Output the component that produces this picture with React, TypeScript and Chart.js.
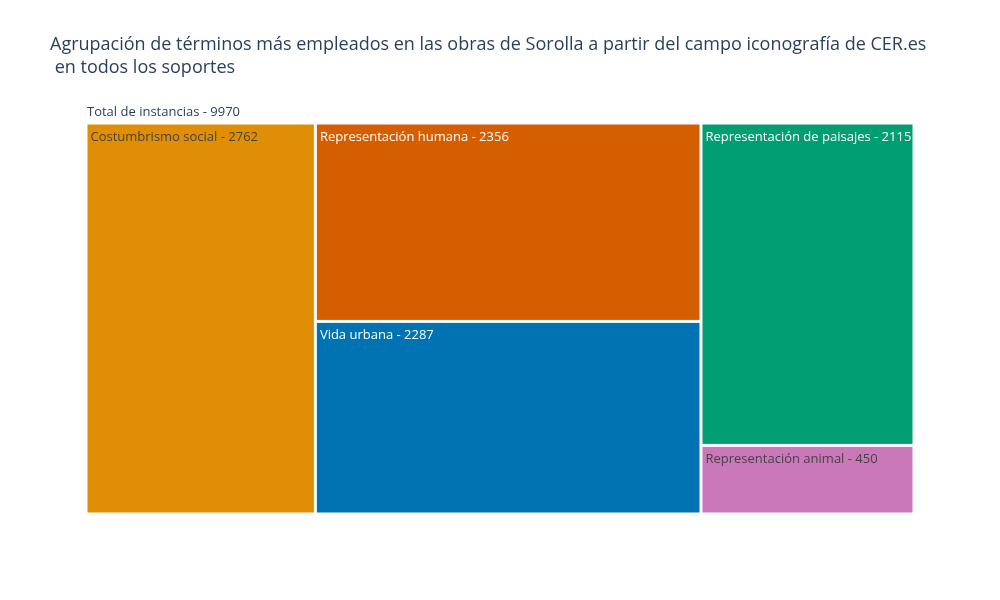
import React, { useEffect, useRef } from "react";
import { Chart, registerables } from "chart.js";

Chart.register(...registerables);

// treemap groups: each inner list is one column of the layout
const groupNames = [
  ["Costumbrismo social"],
  ["Representación humana", "Vida urbana"],
  ["Representación de paisajes", "Representación animal"],
];
const groupValues = [[2762], [2356, 2287], [2115, 450]];
const groupColors = [
  ["#df8e05"],
  ["#d55e00", "#0173b2"],
  ["#029e73", "#cb78bb"],
];
const labelColors = [["#444"], ["#fff", "#fff"], ["#fff", "#444"]];
const rootLabel = "Total de instancias";
const titleLines = [
  "Agrupación de términos más empleados en las obras de Sorolla a partir del campo iconografía de CER.es",
  " en todos los soportes",
];

const total = groupValues.flat().reduce((a, b) => a + b, 0);

const treemapPlugin = {
  id: "treemap",
  afterDatasetsDraw(chart: any) {
    const { ctx, scales } = chart;
    const xs = scales.x;
    const ys = scales.y;
    ctx.save();
    // title
    ctx.fillStyle = "#2a3f5f";
    ctx.font = "18px 'Open Sans', sans-serif";
    ctx.textBaseline = "alphabetic";
    ctx.fillText(titleLines[0], 50, 50);
    ctx.fillText(titleLines[1], 50, 73);
    ctx.font = "13px 'Open Sans', sans-serif";
    ctx.fillStyle = "#2a3f5f";
    ctx.fillText(`${rootLabel} - ${total}`, xs.getPixelForValue(0) + 1, 116);

    let x0 = 0;
    groupValues.forEach((col, ci) => {
      const colSum = col.reduce((a, b) => a + b, 0);
      const x1 = x0 + colSum;
      let y0 = 0;
      col.forEach((v, ri) => {
        const y1 = y0 + v / colSum;
        const L = xs.getPixelForValue(x0) + 1.5;
        const R = xs.getPixelForValue(x1) - 1.5;
        const T = ys.getPixelForValue(y0) + 1.5;
        const B = ys.getPixelForValue(y1) - 1.5;
        ctx.fillStyle = groupColors[ci][ri];
        ctx.fillRect(L, T, R - L, B - T);
        ctx.save();
        ctx.beginPath();
        ctx.rect(L, T, R - L, B - T);
        ctx.clip();
        ctx.fillStyle = labelColors[ci][ri];
        ctx.font = "13px 'Open Sans', sans-serif";
        ctx.fillText(`${groupNames[ci][ri]} - ${v}`, L + 3, T + 16);
        ctx.restore();
        y0 = y1;
      });
      x0 = x1;
    });
    ctx.restore();
  },
};

export default function App() {
  const canvasEl = useRef<HTMLCanvasElement>(null);

  useEffect(() => {
    if (!canvasEl.current) return;
    const chart = new Chart(canvasEl.current, {
      type: "scatter",
      data: { datasets: [{ data: [] }] },
      options: {
        animation: false,
        responsive: false,
        layout: { padding: { left: 86, right: 86, top: 123, bottom: 86 } },
        plugins: { legend: { display: false }, tooltip: { enabled: false } },
        scales: {
          x: { type: "linear", min: 0, max: total, display: false },
          y: { type: "linear", min: 0, max: 1, reverse: true, display: false },
        },
      },
      plugins: [treemapPlugin],
    });
    return () => chart.destroy();
  }, []);

  return (
    <div style={{ position: "fixed", left: 0, top: 0, width: 1000, height: 600, background: "#fff" }}>
      <canvas ref={canvasEl} width={1000} height={600} />
    </div>
  );
}
